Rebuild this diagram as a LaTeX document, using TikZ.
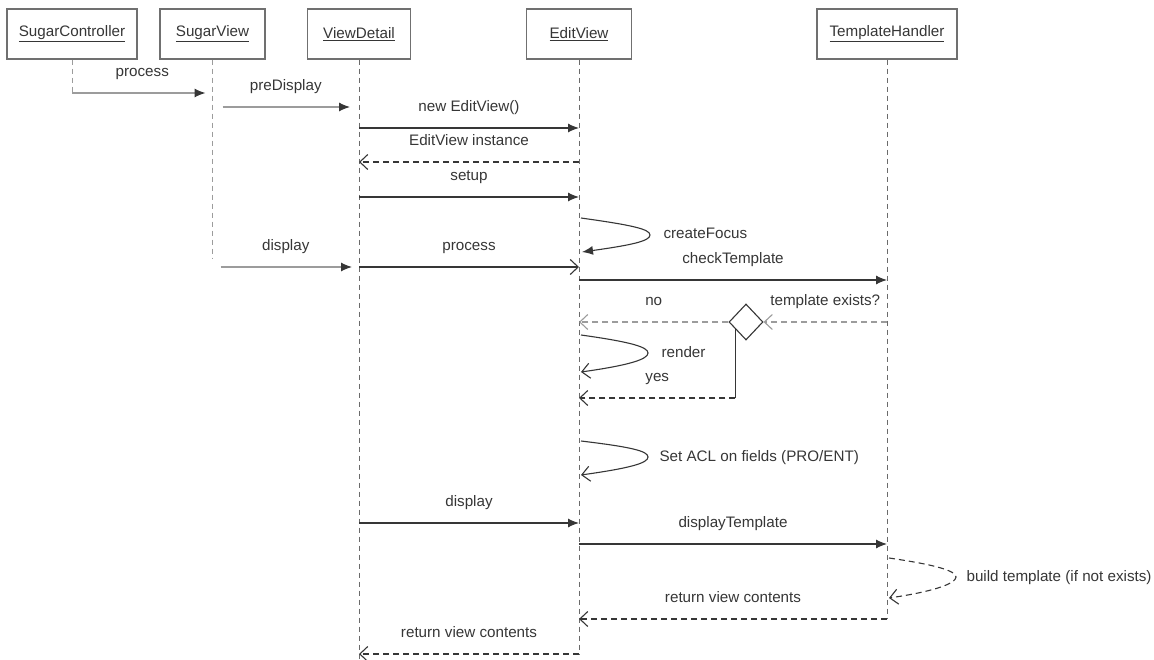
\documentclass[tikz,border=0pt]{standalone}
\usepackage{fontspec}
\setmainfont{Liberation Sans}
\usetikzlibrary{arrows.meta,shapes.geometric,calc,positioning}

\definecolor{umlink}{HTML}{363636}
\definecolor{umlgrey}{HTML}{9C9C9C}
\definecolor{lifegrey}{HTML}{6A6A6A}
\definecolor{boxgrey}{HTML}{707070}

\tikzset{
  obj/.style={draw=boxgrey, line width=1.2pt, fill=white, minimum height=50pt, inner sep=0pt, text=umlink},
  life/.style={draw=lifegrey, line width=1pt, dash pattern=on 5pt off 4pt},
  call/.style={draw=umlink, line width=1.1pt, -{Latex[length=11pt,width=9pt]}},
  callgrey/.style={draw=umlgrey, line width=1.1pt, -{Latex[length=11pt,width=9pt,color=umlink]}},
  msgopen/.style={draw=umlink, line width=1.1pt, -{Straight Barb[length=8pt,width=15pt]}},
  ret/.style={msgopen, dash pattern=on 6pt off 4pt},
  lab/.style={text=umlink, inner sep=1pt, text height=11pt, text depth=3pt},
}

\begin{document}
\begin{tikzpicture}[x=1pt,y=-1pt,font=\fontsize{15.2}{18}\selectfont]
\useasboundingbox (0,0) rectangle (1154,660);

% objects
\node[obj, minimum width=130pt] (sc) at (72,34) {\underline{SugarController}};
\node[obj, minimum width=105pt] (sv) at (212.5,34) {\underline{SugarView}};
\node[obj, minimum width=103pt] (vd) at (359,34) {\underline{ViewDetail}};
\node[obj, minimum width=105pt] (ev) at (579,34) {\underline{EditView}};
\node[obj, minimum width=140pt] (th) at (887,34) {\underline{TemplateHandler}};

% message rows
\coordinate (m0) at (0,93);
\coordinate (m1) at (0,107);
\coordinate (m2) at (0,128);
\coordinate (m3) at (0,162);
\coordinate (m4) at (0,197);
\coordinate (m5) at (0,267);
\coordinate (m6) at (0,280);
\coordinate (m7) at (0,322);
\coordinate (m8) at (0,398);
\coordinate (m9) at (0,523);
\coordinate (m10) at (0,544);
\coordinate (m11) at (0,619);
\coordinate (m12) at (0,654);
\coordinate (bot) at (0,660);

% lifelines
\draw[life, draw=umlgrey] (sc) -- (sc |- m0);
\draw[life, draw=umlgrey] (sv) -- ([yshift=9pt]sv |- m5);
\draw[life] (vd) -- (vd |- bot);
\draw[life] (ev) -- (ev |- m12);
\draw[life] (th) -- (th |- m11);

% messages
\draw[callgrey, shorten >=7pt] (sc |- m0) -- (sv |- m0) node[lab, midway, above=12pt] {process};
\draw[callgrey, shorten <=10pt, shorten >=9pt] (sv |- m1) -- (vd |- m1) node[lab, midway, above=12pt] {preDisplay};
\draw[call] (vd |- m2) -- (ev |- m2) node[lab, midway, above=12pt] {new EditView()};
\draw[ret] (ev |- m3) -- (vd |- m3) node[lab, midway, above=12pt] {EditView instance};
\draw[call] (vd |- m4) -- (ev |- m4) node[lab, midway, above=12pt] {setup};
\draw[call] (581,218) .. controls +(50,7) and +(0,-6) .. (650,235) node[lab, right=12pt] {createFocus}
  .. controls +(0,6) and +(50,-7) .. (582,252);
\draw[callgrey, shorten <=8pt, shorten >=7pt] (sv |- m5) -- (vd |- m5) node[lab, midway, above=12pt] {display};
\draw[msgopen] (vd |- m5) -- (ev |- m5) node[lab, midway, above=12pt] {process};
\draw[call] (ev |- m6) -- (th |- m6) node[lab, midway, above=12pt] {checkTemplate};

% decision
\node[diamond, draw=umlink, line width=1.1pt, fill=white, inner sep=0pt, minimum width=34pt, minimum height=36pt] (dec) at (746,322) {};
\draw[ret, draw=umlgrey] (th |- m7) -- (dec.east) node[lab, midway, above=12pt] {template exists?};
\draw[ret, draw=umlgrey] (dec.west) -- (ev |- m7) node[lab, midway, above=12pt] {no};
\coordinate (dy) at ($(dec.south)!0.6!(dec.west)$);
\draw[umlink, line width=1.1pt] (dy) -- (dy |- m8);
\draw[ret] (dy |- m8) -- (ev |- m8) node[lab, midway, above=12pt] {yes};
\draw[msgopen] (581,335) .. controls +(50,7) and +(0,-6) .. (648,353) node[lab, right=12pt] {render}
  .. controls +(0,6) and +(50,-7) .. (581,372);

\draw[msgopen] (581,441) .. controls +(50,6) and +(0,-6) .. (648,457) node[lab, right=10pt] {Set ACL on fields (PRO/ENT)}
  .. controls +(0,6) and +(50,-7) .. (581,475);
\draw[call] (vd |- m9) -- (ev |- m9) node[lab, midway, above=12pt] {display};
\draw[call] (ev |- m10) -- (th |- m10) node[lab, midway, above=12pt] {displayTemplate};
\draw[ret] (889,558) .. controls +(48,7) and +(0,-6) .. (956,577) node[lab, right=9pt] {build template (if not exists)}
  .. controls +(0,6) and +(48,-7) .. (889,598);
\draw[ret] (th |- m11) -- (ev |- m11) node[lab, midway, above=12pt] {return view contents};
\draw[ret] (ev |- m12) -- (vd |- m12) node[lab, midway, above=12pt] {return view contents};
\end{tikzpicture}
\end{document}
